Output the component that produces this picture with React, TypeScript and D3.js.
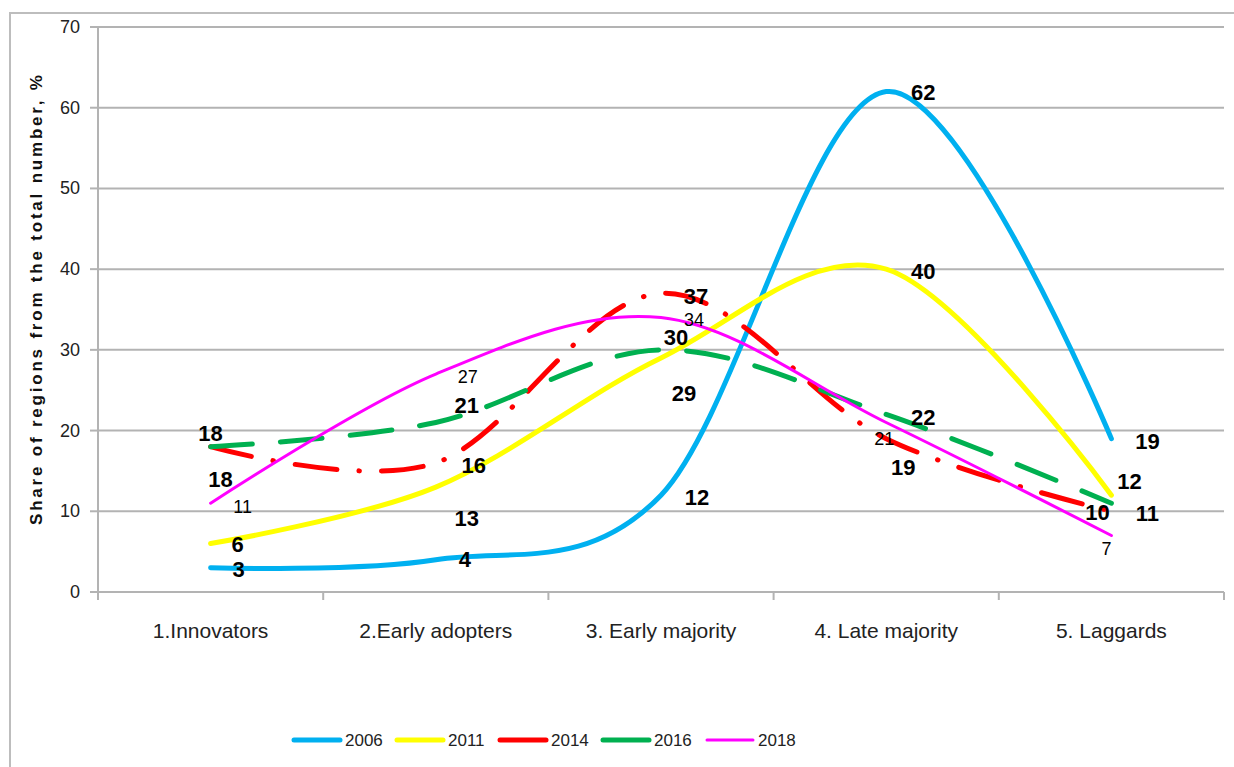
import React from "react";
import * as d3 from "d3";

const categories = ["1.Innovators", "2.Early adopters", "3. Early majority", "4. Late majority", "5. Laggards"];
const years = ["2006", "2011", "2014", "2016", "2018"];
const values2006 = [3, 4, 12, 62, 19];
const values2011 = [6, 13, 29, 40, 12];
const values2014 = [18, 16, 37, 19, 10];
const values2016 = [18, 21, 30, 22, 11];
const values2018 = [11, 27, 34, 21, 7];
const yTicks = [0, 10, 20, 30, 40, 50, 60, 70];

// label offsets (px) relative to each point
const offsets2006 = [[28, 2], [29, 0], [36, 2], [37, 1], [36, 3]];
const offsets2011 = [[27, 1], [31, 31], [23, 36], [37, 2], [18, -14]];
const offsets2014 = [[10, 33], [38, 3], [35, 3], [17, 29], [-14, 1]];
const offsets2016 = [[0, -13], [31, -17], [15, -12], [37, 3], [36, 10]];
const offsets2018 = [[32, 4], [32, 3], [33, 2], [-2, 16], [-5, 13]];

const series = [
  { name: years[0], values: values2006, offsets: offsets2006, color: "#00B0F0", width: 5, dash: null, bold: true },
  { name: years[1], values: values2011, offsets: offsets2011, color: "#FFFF00", width: 5, dash: null, bold: true },
  { name: years[2], values: values2014, offsets: offsets2014, color: "#FF0000", width: 5, dash: "42 22 0.5 22", bold: true },
  { name: years[3], values: values2016, offsets: offsets2016, color: "#00B050", width: 5, dash: "42 28", bold: true },
  { name: years[4], values: values2018, offsets: offsets2018, color: "#FF00FF", width: 3, dash: null, bold: false },
];

const FONT = "'Liberation Sans', Arial, sans-serif";

export default function App() {
  const left = 98, right = 1224, top = 27, bottom = 592;
  const x = d3.scaleBand<string>().domain(categories).range([left, right]).paddingInner(0).paddingOuter(0);
  const cx = (c: string) => (x(c) as number) + x.bandwidth() / 2;
  const y = d3.scaleLinear().domain([0, 70]).range([bottom, top]);
  const line = d3
    .line<number>()
    .x((_, i) => cx(categories[i]))
    .y((d) => y(d))
    .curve(d3.curveCardinal.tension(0));

  const legendX = [294, 397, 500, 603, 707];
  const legendY = 740;

  return (
    <svg width={1234} height={767} style={{ position: "absolute", left: 0, top: 0, background: "#fff" }}>
      <rect x={10} y={13} width={1300} height={800} fill="#fff" stroke="#bdbdbd" strokeWidth={2} />
      {/* gridlines */}
      {yTicks.map((t) => (
        <line key={"g" + t} x1={left} x2={right} y1={y(t)} y2={y(t)} stroke="#b3b3b3" strokeWidth={2} />
      ))}
      {/* y axis */}
      <line x1={left} x2={left} y1={top} y2={bottom} stroke="#b3b3b3" strokeWidth={2} />
      {yTicks.map((t) => (
        <g key={"yt" + t}>
          <line x1={left - 8} x2={left} y1={y(t)} y2={y(t)} stroke="#b3b3b3" strokeWidth={2} />
          <text x={80} y={y(t)} textAnchor="end" dominantBaseline="central" fontFamily={FONT} fontSize={18} fill="#222">
            {t}
          </text>
        </g>
      ))}
      {/* x axis ticks */}
      {categories.map((c) => (
        <line key={"xt" + c} x1={x(c) as number} x2={x(c) as number} y1={bottom} y2={bottom + 8} stroke="#b3b3b3" strokeWidth={2} />
      ))}
      <line x1={right} x2={right} y1={bottom} y2={bottom + 8} stroke="#b3b3b3" strokeWidth={2} />
      {categories.map((c) => (
        <text key={"xl" + c} x={cx(c)} y={630} textAnchor="middle" dominantBaseline="central" fontFamily={FONT} fontSize={21} fill="#222">
          {c}
        </text>
      ))}
      <text
        transform={`translate(36, 300) rotate(-90)`}
        textAnchor="middle"
        dominantBaseline="central"
        fontFamily={FONT}
        fontWeight="bold"
        fontSize={17}
        textLength={450}
        lengthAdjust="spacing"
        fill="#111"
      >
        Share of regions from the total number, %
      </text>
      {/* lines */}
      {series.map((s) => (
        <path
          key={"l" + s.name}
          d={line(s.values) as string}
          fill="none"
          stroke={s.color}
          strokeWidth={s.width}
          strokeLinecap="round"
          strokeDasharray={s.dash || undefined}
        />
      ))}
      {/* data labels */}
      {series.map((s) =>
        s.values.map((v, i) => (
          <text
            key={"d" + s.name + i}
            x={cx(categories[i]) + s.offsets[i][0]}
            y={y(v) + s.offsets[i][1]}
            textAnchor="middle"
            dominantBaseline="central"
            fontFamily={FONT}
            fontWeight={s.bold ? "bold" : "normal"}
            fontSize={s.bold ? 22 : 18}
            fill="#000"
          >
            {v}
          </text>
        ))
      )}
      {/* legend */}
      {series.map((s, i) => (
        <g key={"lg" + s.name}>
          <line x1={legendX[i]} x2={legendX[i] + 46} y1={legendY} y2={legendY} stroke={s.color} strokeWidth={s.width} strokeLinecap="round" />
          <text x={legendX[i] + 51} y={legendY} dominantBaseline="central" fontFamily={FONT} fontSize={17} fill="#222">
            {s.name}
          </text>
        </g>
      ))}
    </svg>
  );
}
